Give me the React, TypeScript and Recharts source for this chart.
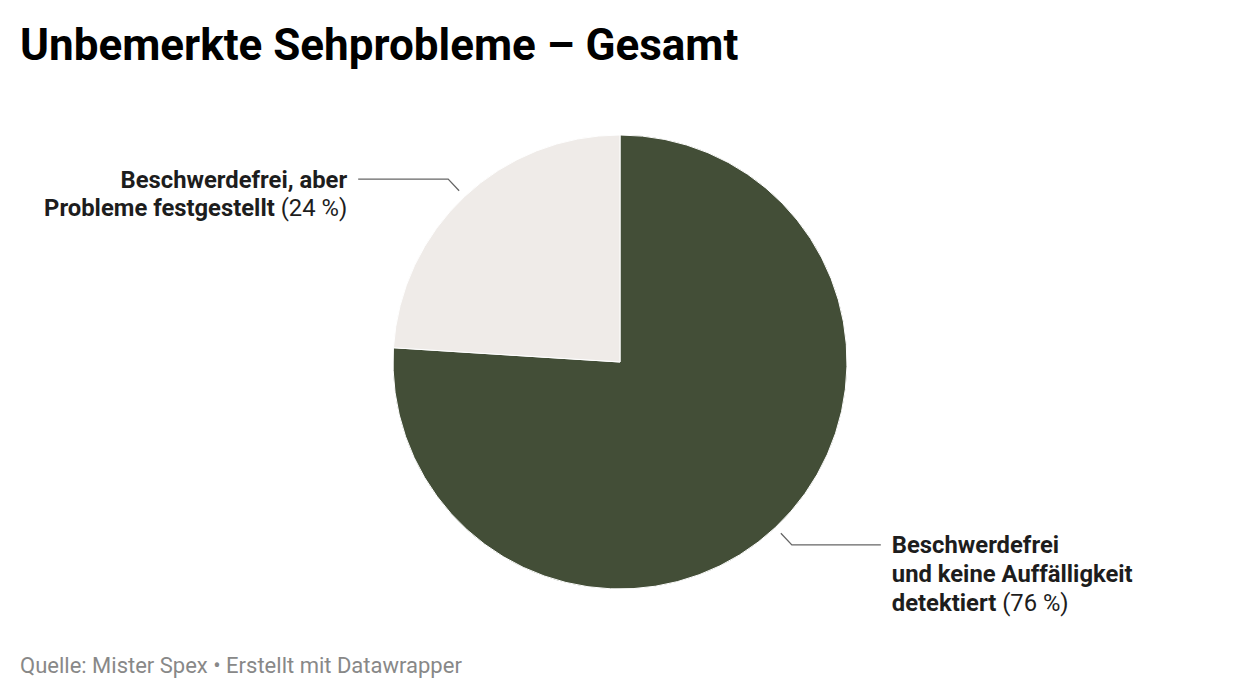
import { Pie, PieChart, Cell } from "recharts";

const categories = [
  "Beschwerdefrei und keine Auffälligkeit detektiert",
  "Beschwerdefrei, aber Probleme festgestellt",
];
const values = [76, 24];
const labelLines = [
  ["Beschwerdefrei", "und keine Auffälligkeit", "detektiert"],
  ["Beschwerdefrei, aber", "Probleme festgestellt"],
];
const colors = ["#434e37", "#efebe8"];

const data = categories.map((name, i) => ({ name, value: values[i] }));

const RAD = Math.PI / 180;
const FONT = "Roboto, 'Noto Sans', sans-serif";

// leader line + multi-line label, placed from the slice's midAngle
const renderLabel = (props: any) => {
  const { cx, cy, outerRadius, midAngle, index } = props;
  const cos = Math.cos(-midAngle * RAD);
  const sin = Math.sin(-midAngle * RAD);
  const sx = cx + (outerRadius + 8) * cos;
  const sy = cy + (outerRadius + 8) * sin;
  const ex = cx + (outerRadius + 24) * cos;
  const ey = cy + (outerRadius + 24) * sin;
  const right = cos >= 0;
  const hx = ex + (right ? 89 : -90);
  const tx = hx + (right ? 11 : -11);
  const lines = labelLines[index];
  const pct = `(${values[index]} %)`;
  return (
    <g>
      <polyline
        points={`${sx},${sy} ${ex},${ey} ${hx},${ey}`}
        fill="none"
        stroke="#666"
        strokeWidth={1.3}
      />
      <text
        x={tx}
        y={ey + 8.5}
        textAnchor={right ? "start" : "end"}
        fontFamily={FONT}
        fontSize={23.8}
        fill="#1d1d1d"
      >
        {lines.map((l, i) => (
          <tspan key={i} x={tx} dy={i === 0 ? 0 : 28.7}>
            <tspan fontWeight={700}>{l}</tspan>
            {i === lines.length - 1 ? <tspan fontWeight={400}> {pct}</tspan> : null}
          </tspan>
        ))}
      </text>
    </g>
  );
};

export default function App() {
  return (
    <div
      style={{
        position: "absolute",
        left: 0,
        top: 0,
        width: 1240,
        height: 700,
        background: "#fff",
        fontFamily: FONT,
      }}
    >
      <div
        style={{
          position: "absolute",
          left: 20,
          top: 19,
          fontSize: 44,
          fontWeight: 700,
          color: "#000",
          lineHeight: "52px",
          whiteSpace: "nowrap",
        }}
      >
        Unbemerkte Sehprobleme – Gesamt
      </div>
      <PieChart
        width={1240}
        height={700}
        margin={{ top: 0, right: 0, bottom: 0, left: 0 }}
        style={{ position: "absolute", left: 0, top: 0 }}
      >
        <Pie
          data={data}
          dataKey="value"
          nameKey="name"
          cx={620}
          cy={362}
          outerRadius={227}
          startAngle={90}
          endAngle={-270}
          stroke="#fff"
          strokeWidth={1}
          label={renderLabel}
          labelLine={false}
          isAnimationActive={false}
        >
          {data.map((d, i) => (
            <Cell key={d.name} fill={colors[i]} />
          ))}
        </Pie>
      </PieChart>
      <div
        style={{
          position: "absolute",
          left: 20,
          top: 653,
          fontSize: 22,
          color: "#888",
          lineHeight: "26px",
          whiteSpace: "nowrap",
        }}
      >
        Quelle: Mister Spex • Erstellt mit Datawrapper
      </div>
    </div>
  );
}
